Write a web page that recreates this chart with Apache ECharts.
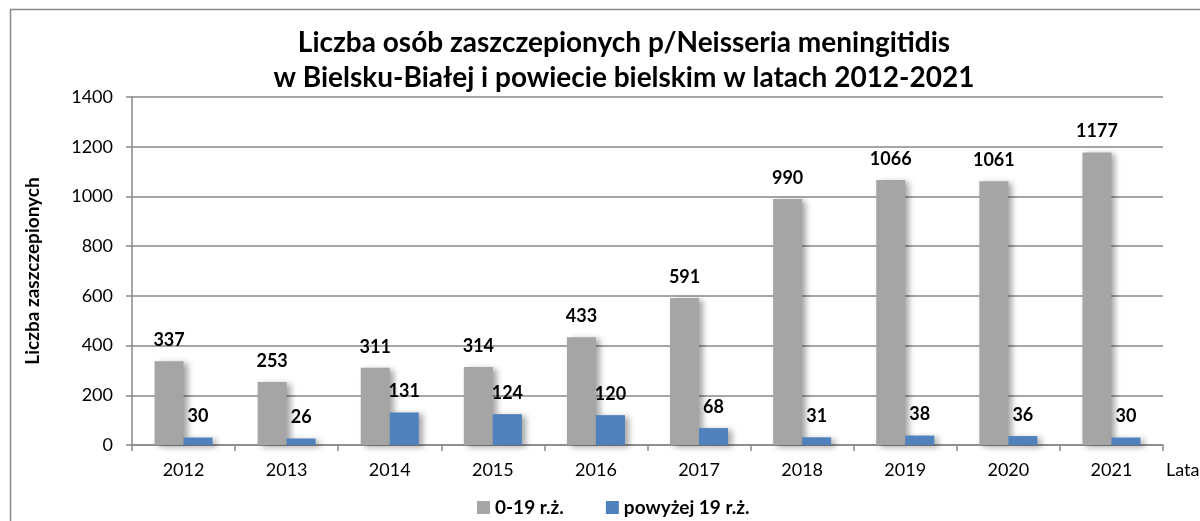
<!DOCTYPE html>
<html>
<head>
<meta charset="utf-8">
<script src="https://cdn.jsdelivr.net/npm/echarts@6/dist/echarts.min.js"></script>
<style>html,body{margin:0;padding:0;background:#fff}#c{width:1200px;height:521px}</style>
</head>
<body>
<div id="c"></div>
<script>
const categories = ['2012','2013','2014','2015','2016','2017','2018','2019','2020','2021'];
const seriesNames = ['0-19 r.ż.', 'powyżej 19 r.ż.'];
const young = [337, 253, 311, 314, 433, 591, 990, 1066, 1061, 1177];
const older = [30, 26, 131, 124, 120, 68, 31, 38, 36, 30];
const yTicks = {min: 0, max: 1400, interval: 200};

const FONT = 'Lato';
const chart = echarts.init(document.getElementById('c'), null, {renderer: 'canvas'});
const lbl = {show: true, position: 'top', distance: 12, fontFamily: FONT, fontWeight: 'bold', fontSize: 18, color: '#000'};
const shadow = {shadowColor: 'rgba(0,0,0,0.35)', shadowBlur: 6, shadowOffsetX: 4, shadowOffsetY: 2};
chart.setOption({
  animation: false,
  backgroundColor: '#fff',
  textStyle: {fontFamily: FONT},
  title: {
    text: 'Liczba osób zaszczepionych p/Neisseria meningitidis\nw Bielsku-Białej i powiecie bielskim w latach 2012-2021',
    left: 619, top: 20, textAlign: 'center',
    textStyle: {fontFamily: FONT, fontWeight: 'bold', fontSize: 28, lineHeight: 35, color: '#000'}
  },
  legend: {
    left: 472, top: 493, itemWidth: 13, itemHeight: 13, itemGap: 42, icon: 'rect',
    data: seriesNames,
    textStyle: {fontFamily: FONT, fontWeight: 'bold', fontSize: 19, color: '#000'}
  },
  grid: {left: 132, top: 97, right: 37, bottom: 76, containLabel: false},
  xAxis: {
    type: 'category', data: categories,
    axisLine: {lineStyle: {color: '#888', width: 1.5}},
    axisTick: {show: true, length: 6, lineStyle: {color: '#888', width: 1.5}},
    axisLabel: {fontFamily: FONT, fontSize: 18, color: '#000', margin: 16}
  },
  yAxis: {
    type: 'value', min: yTicks.min, max: yTicks.max, interval: yTicks.interval,
    name: 'Liczba zaszczepionych', nameLocation: 'middle', nameGap: 90, nameRotate: 90,
    nameTextStyle: {fontFamily: FONT, fontWeight: 'bold', fontSize: 19, color: '#000'},
    axisLine: {show: true, lineStyle: {color: '#888', width: 1.5}},
    axisTick: {show: true, length: 6, lineStyle: {color: '#888', width: 1.5}},
    axisLabel: {fontFamily: FONT, fontSize: 18, color: '#000', margin: 19, formatter: v => String(v)},
    splitLine: {lineStyle: {color: '#888', width: 1.5}}
  },
  series: [
    {name: seriesNames[0], type: 'bar', data: young, barWidth: 29, barGap: '0%',
     itemStyle: Object.assign({color: '#a5a5a5'}, shadow), label: lbl},
    {name: seriesNames[1], type: 'bar', data: older, barWidth: 29,
     itemStyle: Object.assign({color: '#4f81bd'}, shadow), label: lbl}
  ],
  graphic: [
    {type: 'rect', shape: {x: 10.5, y: 9.5, width: 1300, height: 700}, style: {fill: 'none', stroke: '#888', lineWidth: 1.5}, silent: true, z: -1},
    {type: 'text', left: 1166, top: 461, style: {text: 'Lata', fontFamily: FONT, fontSize: 18, fill: '#000'}}
  ]
});
</script>
</body>
</html>
